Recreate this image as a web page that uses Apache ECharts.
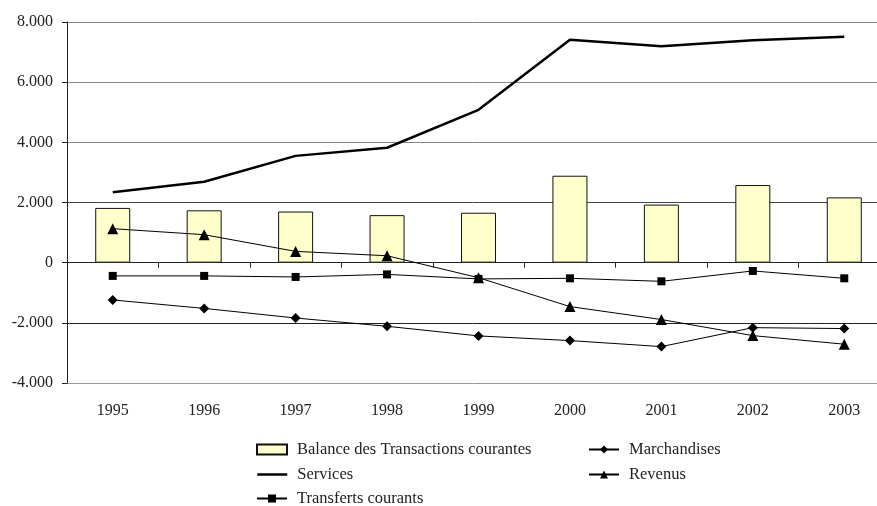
<!DOCTYPE html>
<html><head><meta charset="utf-8">
<script src="https://cdn.jsdelivr.net/npm/echarts@6/dist/echarts.min.js"></script>
<style>html,body{margin:0;padding:0;background:#fff}#c{width:877px;height:506px}</style>
</head><body><div id="c"></div>
<script>
var years = ['1995','1996','1997','1998','1999','2000','2001','2002','2003'];
var balance = [1820, 1740, 1700, 1580, 1660, 2890, 1930, 2580, 2170];
var services = [2340, 2690, 3550, 3820, 5080, 7410, 7190, 7390, 7510];
var marchandises = [-1240, -1520, -1840, -2115, -2435, -2590, -2790, -2160, -2190];
var revenus = [1130, 930, 375, 230, -500, -1460, -1890, -2425, -2710];
var transferts = [-440, -440, -475, -390, -540, -520, -620, -275, -520];
var yMin = -4000, yMax = 8000, yStep = 2000;

var FONT = '"Liberation Serif", "DejaVu Serif", serif';
var chart = echarts.init(document.getElementById('c'), null, {renderer: 'canvas'});
function fmt(v){
  var s = Math.abs(v).toString().replace(/\B(?=(\d{3})+(?!\d))/g, '.');
  return (v < 0 ? '-' : '') + s;
}
function leg(item, left, top){
  return {data: [item], left: left, top: top, itemWidth: 30, itemHeight: 10, itemGap: 0,
    padding: 0, textStyle: {fontFamily: FONT, fontSize: 16.5, color: '#222', padding: [0,0,0,5]},
    selectedMode: false};
}
chart.setOption({
  animation: false,
  backgroundColor: '#fff',
  textStyle: {fontFamily: FONT},
  grid: {left: 67, top: 22, width: 823, bottom: 123, containLabel: false, outerBoundsMode: 'none'},
  legend: [
    leg({name: 'Balance des Transactions courantes', icon: 'rect'}, 256, 441),
    leg({name: 'Marchandises'}, 588, 441),
    leg({name: 'Services', itemStyle: {opacity: 0}, lineStyle: {width: 2.5, color: '#000'}}, 256, 466),
    leg({name: 'Revenus'}, 588, 466),
    leg({name: 'Transferts courants'}, 256, 490)
  ],
  xAxis: [
    {type: 'category', data: years, position: 'bottom',
     axisLine: {show: false, onZero: false}, axisTick: {show: false},
     axisLabel: {fontFamily: FONT, fontSize: 16, color: '#222', margin: 20}},
    {type: 'category', data: years, position: 'bottom',
     axisLine: {show: true, onZero: true, lineStyle: {color: '#222', width: 1}},
     axisTick: {show: true, length: 5, lineStyle: {color: '#222'}},
     axisLabel: {show: false}}
  ],
  yAxis: {type: 'value', min: yMin, max: yMax, interval: yStep,
    axisLine: {show: true, lineStyle: {color: '#222'}},
    axisTick: {show: true, length: 5, lineStyle: {color: '#222'}},
    axisLabel: {formatter: fmt, fontFamily: FONT, fontSize: 16, color: '#222', margin: 14},
    splitLine: {show: true, lineStyle: {color: ['#999','#222','#222','#444','#888','#888','#888'], width: 1}}
  },
  series: [
    {name: 'Balance des Transactions courantes', type: 'bar', data: balance, barWidth: 35,
     itemStyle: {color: '#FFFFCC', borderColor: '#111', borderWidth: 1}, z: 2},
    {name: 'Marchandises', type: 'line', data: marchandises, symbol: 'diamond', symbolSize: 10,
     itemStyle: {color: '#000'}, lineStyle: {color: '#000', width: 1}, z: 3},
    {name: 'Services', type: 'line', data: services, symbol: 'none', showSymbol: false,
     itemStyle: {color: '#000'}, lineStyle: {color: '#000', width: 2.5}, z: 3},
    {name: 'Revenus', type: 'line', data: revenus, symbol: 'triangle', symbolSize: 11,
     itemStyle: {color: '#000'}, lineStyle: {color: '#000', width: 1}, z: 3},
    {name: 'Transferts courants', type: 'line', data: transferts, symbol: 'rect', symbolSize: 8,
     itemStyle: {color: '#000'}, lineStyle: {color: '#000', width: 1}, z: 3}
  ]
});
</script></body></html>
